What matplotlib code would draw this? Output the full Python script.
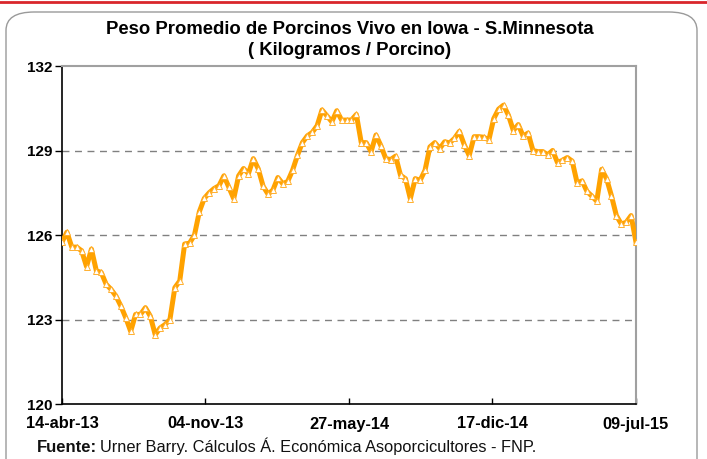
import matplotlib
matplotlib.use("Agg")
import matplotlib.pyplot as plt
from matplotlib.patches import FancyBboxPatch
from matplotlib.lines import Line2D
import pandas as pd

plt.rcParams['font.family'] = ['Liberation Sans', 'DejaVu Sans']

title = "Peso Promedio de Porcinos Vivo en Iowa - S.Minnesota\n( Kilogramos / Porcino)"
start_date = "2013-04-14"
end_date = "2015-07-09"
tick_dates = ["2013-04-14", "2013-11-04", "2014-05-27", "2014-12-17", "2015-07-09"]
tick_labels = ["14-abr-13", "04-nov-13", "27-may-14", "17-dic-14", "09-jul-15"]
y_ticks = [120, 123, 126, 129, 132]

peso = [
    125.75, 126.10, 125.57, 125.57, 125.44, 124.88, 125.50, 124.73, 124.67, 124.25,
    124.07, 123.83, 123.48, 123.06, 122.58, 123.18, 123.18, 123.42, 123.12, 122.46,
    122.70, 122.82, 123.00, 124.13, 124.37, 125.68, 125.71, 126.00, 126.83, 127.30,
    127.50, 127.65, 127.75, 128.10, 127.70, 127.29, 128.10, 128.36, 128.18, 128.71,
    128.35, 127.73, 127.45, 127.60, 128.04, 127.82, 127.90, 128.30, 128.83, 129.28,
    129.52, 129.64, 129.88, 130.44, 130.23, 130.02, 130.41, 130.08, 130.08, 130.08,
    130.28, 129.28, 129.28, 128.96, 129.55, 129.17, 128.71, 128.68, 128.80, 128.12,
    128.00, 127.29, 128.00, 127.94, 128.30, 129.13, 129.28, 129.07, 129.31, 129.27,
    129.43, 129.68, 129.20, 128.82, 129.49, 129.49, 129.47, 129.37, 130.13, 130.47,
    130.61, 130.25, 129.71, 129.92, 129.51, 129.62, 129.00, 128.96, 128.96, 128.85,
    129.00, 128.57, 128.65, 128.75, 128.62, 127.85, 127.92, 127.55, 127.38, 127.20,
    128.33, 128.00, 127.39, 126.69, 126.39, 126.45, 126.69, 125.74,
]

W, H = 707, 459
fig = plt.figure(figsize=(W / 100, H / 100), dpi=100)
fig.patch.set_facecolor("white")

# outer rounded frame
frame = FancyBboxPatch((6 / W, -20 / H), 691 / W, (H - 12 + 20) / H,
                       boxstyle="round,pad=0,rounding_size=0.04",
                       transform=fig.transFigure, facecolor="none",
                       edgecolor="#9a9a9a", linewidth=1.0, zorder=-1)
fig.add_artist(frame)
# red strip at top
fig.add_artist(Line2D([0, 1], [1 - 2 / H, 1 - 2 / H], transform=fig.transFigure,
                      color="#d9262b", linewidth=2.0))

ax = fig.add_axes([62 / W, 1 - 404 / H, (636 - 62) / W, (404 - 66) / H])
ax.set_facecolor("white")
ax.set_zorder(2)

dates = pd.date_range(start_date, end_date, periods=len(peso))
ax.plot(dates, peso, color="#FFA200", linewidth=3.6, solid_joinstyle="round",
        marker="^", markersize=3.8, markerfacecolor="white",
        markeredgecolor="#FFB030", markeredgewidth=0.7, zorder=3)

ax.set_xlim(pd.Timestamp(start_date), pd.Timestamp(end_date))
ax.set_ylim(120, 132)
ax.set_yticks(y_ticks)
ax.set_yticklabels([str(v) for v in y_ticks], fontweight="bold", fontsize=11)
ax.set_xticks([pd.Timestamp(d) for d in tick_dates])
ax.set_xticklabels(tick_labels, fontweight="bold", fontsize=11.8)

for v in [123, 126, 129]:
    ax.axhline(v, color="#808080", linestyle=(0, (5, 4)), linewidth=1.0, zorder=1)

ax.spines["left"].set_color("black")
ax.spines["bottom"].set_color("black")
ax.spines["top"].set_color("#a0a0a0")
ax.spines["right"].set_color("#a0a0a0")
for s in ax.spines.values():
    s.set_linewidth(1.2)
ax.spines["top"].set_linewidth(1.5)
ax.spines["right"].set_linewidth(1.5)

ax.tick_params(axis="y", direction="out", length=5, width=1, pad=2, colors="black")
ax.tick_params(axis="x", direction="in", length=4, width=1, pad=9, colors="black")

fig.text(350 / W, 1 - 40 / H, title, ha="center", va="center", fontsize=13.3,
         fontweight="bold", linespacing=1.3, zorder=3)

fig.text(37 / W, 1 - 452 / H, "Fuente:", ha="left", va="baseline", fontsize=12,
         fontweight="bold", color="#111111", zorder=3)
fig.text(100 / W, 1 - 452 / H, "Urner Barry. Cálculos Á. Económica Asoporcicultores - FNP.",
         ha="left", va="baseline", fontsize=11.8, color="#111111", zorder=3)

fig.savefig("out.png", dpi=100, facecolor="white")
